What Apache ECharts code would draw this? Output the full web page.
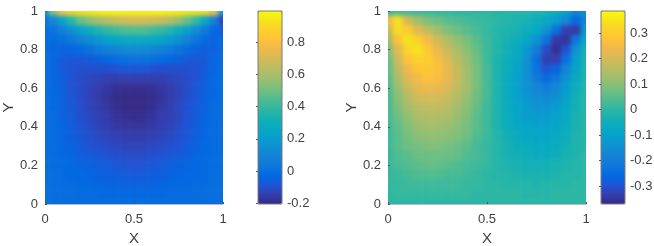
<!DOCTYPE html>
<html><head><meta charset="utf-8">
<style>
html,body{margin:0;padding:0;background:#fff;}
#c{width:654px;height:246px;}
canvas[data-zr-dom-id="zr_1"]{
  filter:blur(2.3px);
  clip-path:polygon(45px 11px,223px 11px,223px 204px,45px 204px,45px 11px,388px 11px,586px 11px,586px 204px,388px 204px,388px 11px);
}
</style>
<script src="https://cdn.jsdelivr.net/npm/echarts@6/dist/echarts.min.js"></script>
</head><body><div id="c"></div>
<script>
const xLevels=[0,.05,.1,.15,.2,.25,.3,.35,.4,.45,.5,.55,.6,.65,.7,.75,.8,.85,.9,.95,1];
const yLevels=[1,.95,.9,.85,.8,.75,.7,.65,.6,.55,.5,.45,.4,.35,.3,.25,.2,.15,.1,.05,0];
const uRows=[
[.15,.55,.80,.88,.92,.94,.95,.96,.97,.97,.97,.97,.97,.97,.96,.95,.94,.92,.89,.78,.20],
[.02,.10,.24,.37,.48,.55,.60,.64,.67,.69,.70,.70,.69,.67,.63,.57,.49,.39,.25,.07,-.12],
[-.02,.01,.07,.14,.22,.29,.35,.39,.42,.44,.45,.45,.43,.40,.36,.30,.22,.13,.05,-.03,-.07],
[-.02,-.02,0,.04,.09,.13,.18,.22,.25,.27,.28,.28,.27,.24,.20,.15,.09,.03,-.02,-.05,-.03],
[-.02,-.04,-.05,-.04,-.02,.01,.05,.08,.10,.12,.12,.12,.11,.09,.06,.02,-.01,-.04,-.06,-.05,-.02],
[-.01,-.04,-.07,-.08,-.08,-.07,-.05,-.03,-.01,0,.01,.01,0,-.01,-.03,-.05,-.07,-.08,-.07,-.04,-.02],
[-.01,-.04,-.07,-.09,-.10,-.10,-.10,-.10,-.09,-.08,-.08,-.08,-.09,-.10,-.10,-.10,-.10,-.09,-.07,-.04,-.01],
[-.01,-.04,-.06,-.09,-.11,-.12,-.13,-.14,-.145,-.145,-.145,-.145,-.145,-.14,-.13,-.12,-.11,-.09,-.06,-.03,-.01],
[-.01,-.03,-.06,-.09,-.11,-.13,-.15,-.165,-.185,-.19,-.19,-.19,-.185,-.165,-.15,-.13,-.11,-.08,-.06,-.03,-.01],
[-.01,-.03,-.05,-.08,-.11,-.13,-.15,-.175,-.197,-.205,-.205,-.205,-.197,-.175,-.15,-.13,-.10,-.08,-.05,-.03,-.01],
[-.01,-.03,-.05,-.08,-.10,-.13,-.15,-.165,-.19,-.205,-.205,-.205,-.19,-.16,-.145,-.12,-.10,-.07,-.05,-.02,-.01],
[-.01,-.02,-.05,-.07,-.10,-.12,-.14,-.15,-.175,-.19,-.195,-.19,-.175,-.15,-.14,-.12,-.09,-.07,-.04,-.02,-.01],
[-.01,-.02,-.04,-.06,-.09,-.11,-.13,-.145,-.16,-.17,-.17,-.17,-.16,-.145,-.13,-.11,-.09,-.06,-.04,-.02,-.01],
[-.01,-.02,-.04,-.06,-.08,-.10,-.12,-.13,-.14,-.15,-.15,-.15,-.14,-.13,-.12,-.10,-.08,-.06,-.04,-.02,-.01],
[-.01,-.02,-.03,-.05,-.07,-.09,-.10,-.11,-.12,-.13,-.13,-.13,-.12,-.11,-.10,-.09,-.07,-.05,-.03,-.02,-.01],
[-.01,-.02,-.03,-.04,-.06,-.07,-.08,-.09,-.10,-.11,-.11,-.11,-.10,-.09,-.08,-.07,-.06,-.04,-.03,-.02,-.01],
[-.01,-.02,-.02,-.03,-.04,-.05,-.06,-.07,-.08,-.09,-.09,-.09,-.08,-.07,-.06,-.05,-.04,-.03,-.02,-.02,-.01],
[-.01,-.01,-.02,-.03,-.03,-.04,-.05,-.06,-.06,-.07,-.07,-.07,-.06,-.06,-.05,-.04,-.03,-.03,-.02,-.01,-.01],
[-.01,-.01,-.02,-.02,-.03,-.03,-.04,-.04,-.05,-.05,-.05,-.05,-.05,-.04,-.04,-.03,-.03,-.02,-.02,-.01,-.01],
[-.01,-.01,-.01,-.01,-.02,-.02,-.02,-.03,-.03,-.03,-.03,-.03,-.03,-.03,-.02,-.02,-.02,-.01,-.01,-.01,-.01],
[-.01,-.01,-.01,-.01,-.01,-.01,-.01,-.01,-.01,-.01,-.01,-.01,-.01,-.01,-.01,-.01,-.01,-.01,-.01,-.01,-.01]
];
const vRows=[
[.02,.03,.03,.02,.02,.01,.01,0,0,0,0,-.01,-.01,-.01,-.01,-.02,-.03,-.05,-.10,-.18,-.15],
[.25,.34,.20,.13,.09,.07,.05,.04,.03,.02,.01,0,-.01,-.02,-.03,-.05,-.07,-.11,-.17,-.25,-.18],
[.18,.33,.30,.22,.17,.13,.09,.07,.05,.03,.01,-.01,-.02,-.03,-.05,-.08,-.14,-.24,-.33,-.34,-.12],
[.13,.27,.35,.31,.25,.19,.15,.11,.08,.05,.02,-.01,-.03,-.05,-.08,-.14,-.23,-.34,-.35,-.22,-.07],
[.09,.22,.32,.35,.29,.23,.18,.14,.10,.06,.02,-.01,-.04,-.07,-.12,-.20,-.31,-.36,-.30,-.15,-.04],
[.07,.19,.28,.31,.30,.26,.21,.16,.12,.07,.02,-.02,-.05,-.08,-.14,-.24,-.33,-.33,-.24,-.11,-.03],
[.06,.16,.24,.28,.29,.27,.23,.18,.13,.08,.03,-.02,-.05,-.09,-.15,-.23,-.30,-.27,-.18,-.09,-.02],
[.05,.14,.21,.25,.27,.26,.23,.18,.13,.08,.03,-.02,-.06,-.10,-.15,-.21,-.25,-.22,-.14,-.07,-.02],
[.04,.12,.18,.22,.24,.23,.21,.17,.13,.08,.03,-.02,-.06,-.10,-.14,-.18,-.20,-.17,-.12,-.05,-.01],
[.03,.10,.15,.19,.20,.20,.18,.15,.11,.07,.03,-.02,-.06,-.10,-.13,-.16,-.17,-.15,-.10,-.04,-.01],
[.03,.09,.13,.16,.17,.17,.16,.13,.10,.06,.02,-.02,-.06,-.09,-.12,-.14,-.14,-.12,-.08,-.04,-.01],
[.03,.07,.11,.14,.15,.15,.14,.12,.09,.05,.02,-.02,-.05,-.08,-.11,-.12,-.12,-.10,-.07,-.03,-.01],
[.02,.06,.09,.12,.13,.13,.12,.10,.08,.05,.02,-.02,-.05,-.07,-.09,-.10,-.10,-.09,-.06,-.03,-.01],
[.02,.05,.08,.10,.11,.11,.10,.09,.07,.04,.02,-.01,-.04,-.06,-.08,-.09,-.09,-.07,-.05,-.02,-.01],
[.02,.05,.07,.08,.09,.09,.08,.07,.05,.03,.01,-.01,-.03,-.05,-.06,-.07,-.07,-.06,-.04,-.02,-.01],
[.01,.04,.05,.07,.07,.07,.07,.06,.04,.03,.01,-.01,-.03,-.04,-.05,-.06,-.06,-.05,-.03,-.02,0],
[.01,.03,.04,.05,.06,.06,.05,.04,.03,.02,.01,-.01,-.02,-.03,-.04,-.04,-.04,-.03,-.02,-.01,0],
[.01,.02,.03,.04,.04,.04,.03,.03,.02,.01,0,-.01,-.01,-.02,-.03,-.03,-.03,-.02,-.01,-.01,0],
[.01,.01,.02,.02,.02,.02,.02,.02,.01,.01,0,0,-.01,-.01,-.01,-.02,-.01,-.01,-.01,0,0],
[0,.01,.01,.01,.01,.01,.01,.01,.01,0,0,0,0,0,-.01,-.01,-.01,0,0,0,0],
[0,0,0,0,0,0,0,0,0,0,0,0,0,0,0,0,0,0,0,0,0]
];
const parula=['#352a87','#353dad','#2053d4','#0268e1','#0d75dc','#1480d6','#108ed2','#079ccf','#06a7c6','#0faeb9','#25b5a9','#42ba98','#65be86','#87bf77','#a5be6b','#c0bc60','#d9ba56','#f1b94a','#ffc337','#f9d32a','#f5e41d','#f9fb0e'];
const uTicks=[-.2,0,.2,.4,.6,.8];
const vTicks=[-.3,-.2,-.1,0,.1,.2,.3];
const uRange=[-.205,.995];
const vRange=[-.37,.386];

const PAD=2, TXT='#404040', FONT='"Liberation Sans",Arial,sans-serif';
const n=xLevels.length, m=yLevels.length;
const clamp=(v,a,b)=>Math.min(b,Math.max(a,v));
// Cells past the frame repeat the edge value; they are clipped and only keep the smoothing from fading at the border.
function cells(rows){
  const out=[];
  for(let i=-PAD;i<n+PAD;i++)for(let j=-PAD;j<m+PAD;j++){
    out.push([i+PAD,(m-1-j)+PAD,rows[clamp(j,0,m-1)][clamp(i,0,n-1)]]);
  }
  return out;
}
const cats=c=>Array.from({length:c+2*PAD},(_,i)=>String(i));
function heatGrid(L,T,W,H){
  const cw=W/(n-1),ch=H/(m-1);
  return {left:L-(PAD+.5)*cw,top:T-(PAD+.5)*ch,width:(n+2*PAD)*cw,height:(m+2*PAD)*ch,show:false,outerBoundsMode:'none'};
}
const hiddenCat=(k,idx)=>({type:'category',gridIndex:idx,data:cats(k),show:false});
const tick={show:true,inside:true,length:2,lineStyle:{color:'#555',width:1}};
const lab={color:TXT,fontSize:13,fontFamily:FONT};
const nm={color:TXT,fontSize:15,fontFamily:FONT};
function plotX(idx){return {type:'value',gridIndex:idx,min:0,max:1,interval:.5,zlevel:2,name:'X',nameLocation:'middle',nameGap:25,nameTextStyle:nm,
  axisLine:{show:true,onZero:false,lineStyle:{color:'#bbb',width:1}},axisTick:tick,axisLabel:Object.assign({margin:9},lab),splitLine:{show:false}};}
function plotY(idx,gap){return {type:'value',gridIndex:idx,min:0,max:1,interval:.2,zlevel:2,name:'Y',nameLocation:'middle',nameGap:gap,nameTextStyle:nm,
  axisLine:{show:false},axisTick:tick,axisLabel:Object.assign({margin:7,padding:[3,0,0,0]},lab),splitLine:{show:false}};}
function barX(idx){return {type:'value',gridIndex:idx,min:0,max:1,show:false};}
function barY(idx,range,ticks){return {type:'value',gridIndex:idx,position:'right',min:range[0],max:range[1],zlevel:2,
  axisLine:{show:false},
  axisTick:{show:true,inside:true,length:2,lineStyle:{color:'#555'},customValues:ticks},
  axisLabel:Object.assign({margin:5,padding:[3,0,0,0],customValues:ticks},lab),splitLine:{show:false}};}
function vm(idx,range,left){return {type:'continuous',seriesIndex:idx,dimension:2,min:range[0],max:range[1],left:left,top:11,itemWidth:24,itemHeight:193,padding:0,
  text:null,showLabel:false,calculable:false,hoverLink:false,inRange:{color:parula},outOfRange:{color:parula[0]},zlevel:0};}
const box=(l,w)=>({left:l,top:11,width:w,height:193,show:false,outerBoundsMode:'none'});

const chart=echarts.init(document.getElementById('c'),null,{renderer:'canvas'});
chart.setOption({
  animation:false,backgroundColor:'#fff',
  grid:[heatGrid(45,11,178,193),heatGrid(388,11,198,193),box(45,178),box(388,198),
    {left:258,top:11,width:24,height:193,show:true,borderColor:'#7a7a7a',borderWidth:1,backgroundColor:'transparent',zlevel:2,outerBoundsMode:'none'},
    {left:601,top:11,width:24,height:193,show:true,borderColor:'#7a7a7a',borderWidth:1,backgroundColor:'transparent',zlevel:2,outerBoundsMode:'none'}],
  xAxis:[hiddenCat(n,0),hiddenCat(n,1),plotX(2),plotX(3),barX(4),barX(5)],
  yAxis:[hiddenCat(m,0),hiddenCat(m,1),plotY(2,25),plotY(3,25),barY(4,uRange,uTicks),barY(5,vRange,vTicks)],
  visualMap:[vm(0,uRange,258),vm(1,vRange,601)],
  series:[
    {type:'heatmap',xAxisIndex:0,yAxisIndex:0,data:cells(uRows),zlevel:1,silent:true,progressive:0},
    {type:'heatmap',xAxisIndex:1,yAxisIndex:1,data:cells(vRows),zlevel:1,silent:true,progressive:0}
  ]
});
</script></body></html>
